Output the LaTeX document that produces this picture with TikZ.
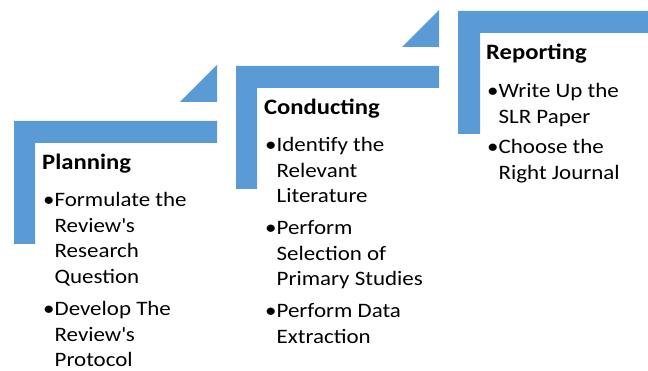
\documentclass[tikz,border=0pt]{standalone}
\usepackage{fontspec}
\setmainfont{Carlito}[FakeStretch=1.12]
\definecolor{smartblue}{HTML}{5B9BD5}
% bullet followed by a stack of lines, split at \\
\newcommand{\steplist}[1]{\textbullet\vtop{\def\\{\egroup\hbox\bgroup}\hbox\bgroup#1\egroup}}
\begin{document}
\begin{tikzpicture}[x=1pt,y=-1pt,
  bar/.style={fill=smartblue},
  head/.style={anchor=base west,inner sep=0pt,font=\fontsize{22}{26}\selectfont\bfseries},
  item/.style={anchor=base west,inner sep=0pt,font=\fontsize{20.5}{25.5}\selectfont}]
\useasboundingbox (0,0) rectangle (648,371);
\clip (0,0) rectangle (648,371);
% planning
\fill[bar] (14,121) -- (217,121) -- (217,143) -- (35,143) -- (35,244) -- (14,244) -- cycle;
\fill[bar] (180,102) -- (217,65) -- (217,102) -- cycle;
% conducting
\fill[bar] (236,66) -- (439,66) -- (439,88) -- (257,88) -- (257,189) -- (236,189) -- cycle;
\fill[bar] (402,47) -- (439,10) -- (439,47) -- cycle;
% reporting
\fill[bar] (458,11) -- (661,11) -- (661,33) -- (480,33) -- (480,134) -- (458,134) -- cycle;
\node[head] (plan) at (42,170) {Planning};
\node[item] (plan1) at (43,207) {\steplist{Formulate the\\Review\textquotesingle s\\Research\\Question}};
\node[item] (plan2) at (43,316) {\steplist{Develop The\\Review\textquotesingle s\\Protocol}};
\node[head] (cond) at (264,115) {Conducting};
\node[item] (cond1) at (265,152) {\steplist{Identify the\\Relevant\\Literature}};
\node[item] (cond2) at (265,235) {\steplist{Perform\\Selection of\\Primary Studies}};
\node[item] (cond3) at (265,318) {\steplist{Perform Data\\Extraction}};
\node[head] (rep) at (486,60) {Reporting};
\node[item] (rep1) at (487,98) {\steplist{Write Up the\\SLR Paper}};
\node[item] (rep2) at (487,154) {\steplist{Choose the\\Right Journal}};
\end{tikzpicture}
\end{document}
